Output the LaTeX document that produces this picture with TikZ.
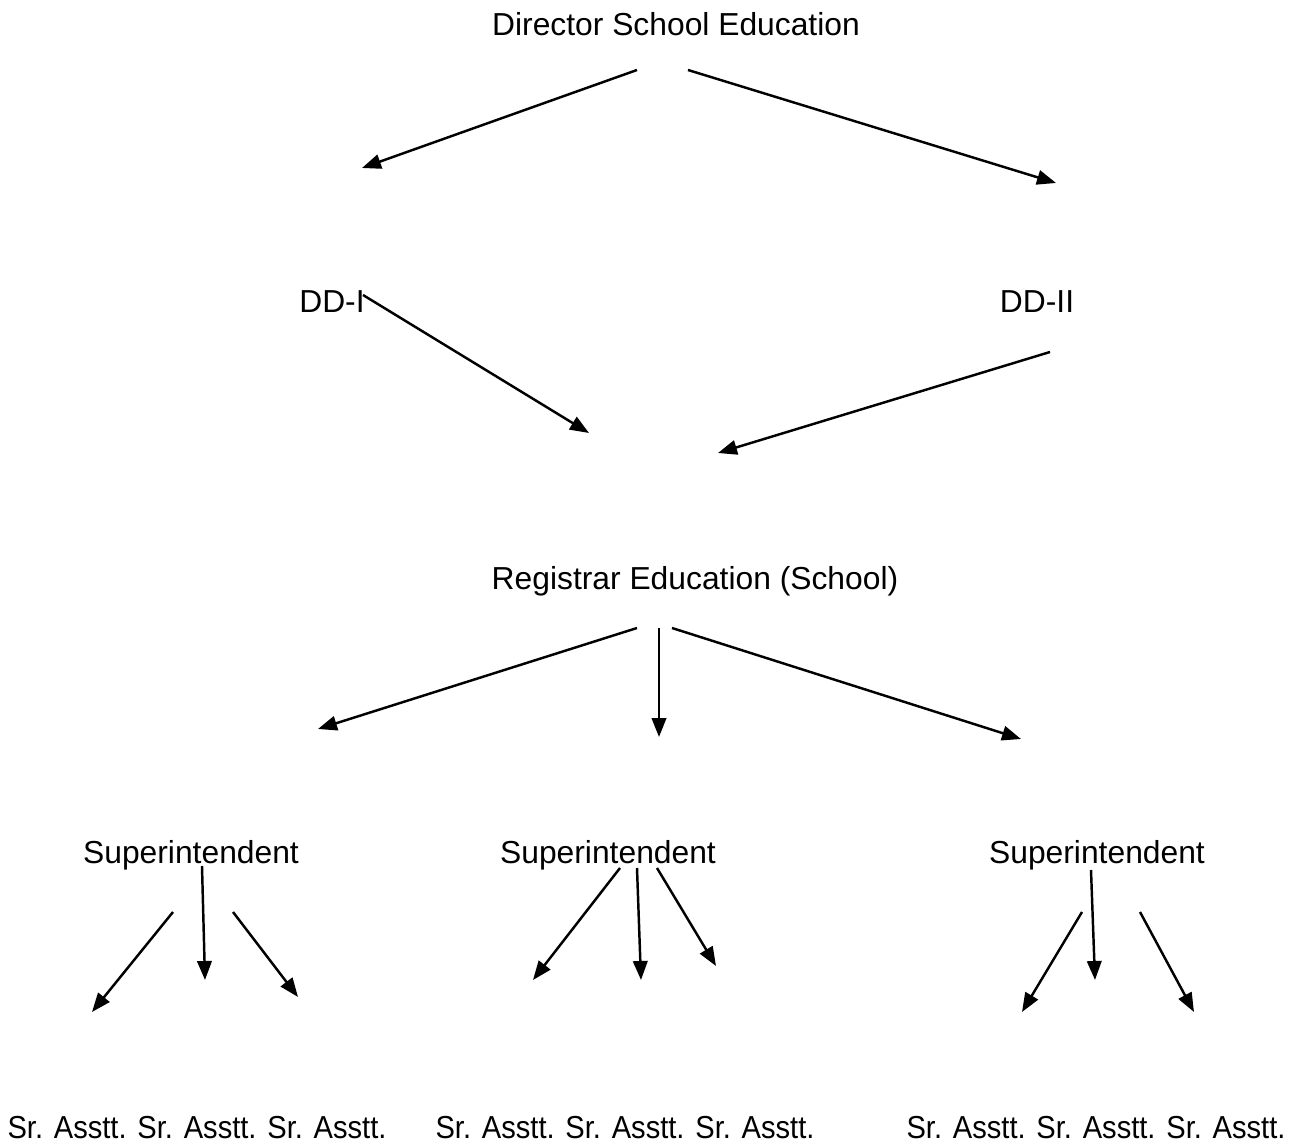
\documentclass[tikz,border=0pt]{standalone}
\usepackage{fontspec}
\setmainfont{Liberation Sans}
\usetikzlibrary{arrows.meta}
\begin{document}
\begin{tikzpicture}[
    x=0.02cm, y=-0.02cm,
    post/.style={anchor=base, inner sep=0pt, font=\fontsize{18.1pt}{22pt}\selectfont},
    line/.style={draw, line width=1.4pt, -{Triangle[length=0.38cm, width=0.29cm]}}
]
    \useasboundingbox (0,0) rectangle (1296,1148);

    \node [post] (dir) at (676,36) {Director School Education};
    \node [post] (dd1) at (332,313) {DD-I};
    \node [post] (dd2) at (1037,313) {DD-II};
    \node [post] (reg) at (695,590) {Registrar Education (School)};
    \node [post] (sup1) at (191,864) {Superintendent};
    \node [post] (sup2) at (608,864) {Superintendent};
    \node [post] (sup3) at (1097,864) {Superintendent};
    \node [post] (asst1) at (197,1138) {\scalebox{0.915}[1]{Sr. Asstt. Sr. Asstt. Sr. Asstt.}};
    \node [post] (asst2) at (625,1138) {\scalebox{0.915}[1]{Sr. Asstt. Sr. Asstt. Sr. Asstt.}};
    \node [post] (asst3) at (1096,1138) {\scalebox{0.915}[1]{Sr. Asstt. Sr. Asstt. Sr. Asstt.}};

    % free ends of the arrows
    \coordinate (dir-l) at (637,70);   \coordinate (dir-r) at (688,70);
    \coordinate (to-dd1) at (362,168); \coordinate (to-dd2) at (1056,183);
    \coordinate (dd1-o) at (363,295);  \coordinate (dd2-o) at (1050,352);
    \coordinate (to-reg-l) at (589,433); \coordinate (to-reg-r) at (718,453);
    \coordinate (reg-l) at (637,628);  \coordinate (reg-m) at (659,628); \coordinate (reg-r) at (672,628);
    \coordinate (to-sup1) at (318,729); \coordinate (to-sup2) at (659,737); \coordinate (to-sup3) at (1021,739);

    \coordinate (s1-l) at (173,912); \coordinate (s1-m) at (202,866); \coordinate (s1-r) at (233,912);
    \coordinate (a1-l) at (92,1012); \coordinate (a1-m) at (205,980); \coordinate (a1-r) at (298,997);
    \coordinate (s2-l) at (620,868); \coordinate (s2-m) at (637,868); \coordinate (s2-r) at (657,868);
    \coordinate (a2-l) at (533,980); \coordinate (a2-m) at (641,980); \coordinate (a2-r) at (716,966);
    \coordinate (s3-l) at (1082,912); \coordinate (s3-m) at (1091,870); \coordinate (s3-r) at (1140,912);
    \coordinate (a3-l) at (1022,1012); \coordinate (a3-m) at (1095,980); \coordinate (a3-r) at (1194,1012);

    \draw [line] (dir-l) -- (to-dd1);
    \draw [line] (dir-r) -- (to-dd2);
    \draw [line] (dd1-o) -- (to-reg-l);
    \draw [line] (dd2-o) -- (to-reg-r);
    \draw [line] (reg-l) -- (to-sup1);
    \draw [line] (reg-m) -- (to-sup2);
    \draw [line] (reg-r) -- (to-sup3);

    \foreach \i in {1,2,3} {
        \draw [line] (s\i-l) -- (a\i-l);
        \draw [line] (s\i-m) -- (a\i-m);
        \draw [line] (s\i-r) -- (a\i-r);
    }
\end{tikzpicture}
\end{document}
